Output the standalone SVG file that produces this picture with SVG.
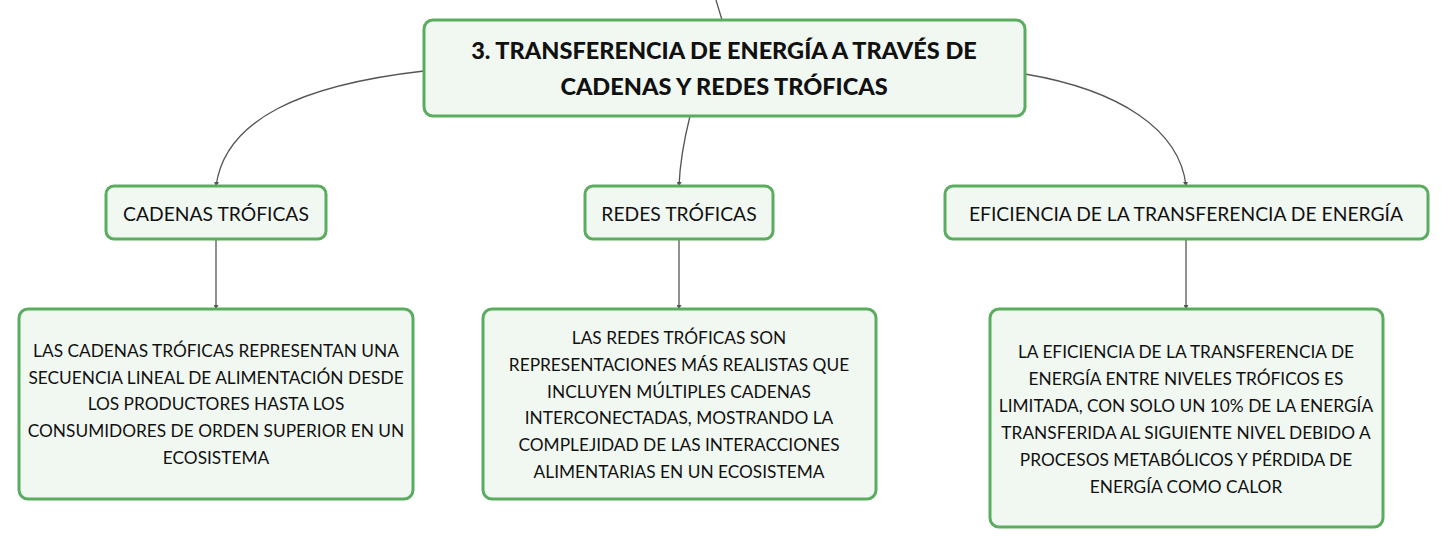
<svg xmlns="http://www.w3.org/2000/svg" width="1449" height="549" viewBox="0 0 1449 549">
<style>
.box{fill:#f1f8f2;stroke:#5aad5f;stroke-width:3}
.t{font-family:Lato,"Noto Sans","Liberation Sans",sans-serif;fill:#111;text-anchor:middle;dominant-baseline:central}
.title{font-size:23.5px;font-weight:900}
.lab{font-size:19.3px}
.body{font-size:17.3px}
.c{fill:none;stroke:#555;stroke-width:1.3}
</style>
<defs>
<marker id="ar" viewBox="0 0 6 6" refX="5" refY="3" markerWidth="5" markerHeight="5" orient="auto" markerUnits="userSpaceOnUse">
<path d="M0,0 L6,3 L0,6 z" fill="#555"/>
</marker>
</defs>
<rect width="1449" height="549" fill="#fff"/>
<g id="connectors">
<path class="c" d="M716,0 L722,20"/>
<path class="c" d="M424,71 C300,85 225,120 216,186" marker-end="url(#ar)"/>
<path class="c" d="M690,116 C684,140 680,160 679,186" marker-end="url(#ar)"/>
<path class="c" d="M1025,74 C1120,90 1180,130 1186,186" marker-end="url(#ar)"/>
<path class="c" d="M216,239 L216,309" marker-end="url(#ar)"/>
<path class="c" d="M679,239 L679,309" marker-end="url(#ar)"/>
<path class="c" d="M1186,239 L1186,309" marker-end="url(#ar)"/>
</g>
<g id="main">
<rect class="box" x="424" y="20" width="601" height="96" rx="9"/>
<text class="t title" x="724" y="50">3. TRANSFERENCIA DE ENERGÍA A TRAVÉS DE</text>
<text class="t title" x="724" y="86">CADENAS Y REDES TRÓFICAS</text>
</g>
<g id="cadenas">
<rect class="box" x="106" y="186" width="220" height="53" rx="8"/>
<text class="t lab" x="216" y="213">CADENAS TRÓFICAS</text>
</g>
<g id="redes">
<rect class="box" x="585" y="186" width="188" height="53" rx="8"/>
<text class="t lab" x="679" y="213">REDES TRÓFICAS</text>
</g>
<g id="eficiencia">
<rect class="box" x="945" y="186" width="483" height="53" rx="8"/>
<text class="t lab" x="1186" y="213">EFICIENCIA DE LA TRANSFERENCIA DE ENERGÍA</text>
</g>
<g id="cadenas-desc">
<rect class="box" x="19" y="309" width="394" height="190" rx="9"/>
<text class="t body" x="216" y="350">LAS CADENAS TRÓFICAS REPRESENTAN UNA</text>
<text class="t body" x="216" y="377">SECUENCIA LINEAL DE ALIMENTACIÓN DESDE</text>
<text class="t body" x="216" y="403">LOS PRODUCTORES HASTA LOS</text>
<text class="t body" x="216" y="430">CONSUMIDORES DE ORDEN SUPERIOR EN UN</text>
<text class="t body" x="216" y="457">ECOSISTEMA</text>
</g>
<g id="redes-desc">
<rect class="box" x="483" y="309" width="393" height="190" rx="9"/>
<text class="t body" x="679" y="337">LAS REDES TRÓFICAS SON</text>
<text class="t body" x="679" y="364">REPRESENTACIONES MÁS REALISTAS QUE</text>
<text class="t body" x="679" y="391">INCLUYEN MÚLTIPLES CADENAS</text>
<text class="t body" x="679" y="417">INTERCONECTADAS, MOSTRANDO LA</text>
<text class="t body" x="679" y="444">COMPLEJIDAD DE LAS INTERACCIONES</text>
<text class="t body" x="679" y="471">ALIMENTARIAS EN UN ECOSISTEMA</text>
</g>
<g id="eficiencia-desc">
<rect class="box" x="990" y="309" width="393" height="218" rx="9"/>
<text class="t body" x="1186" y="351">LA EFICIENCIA DE LA TRANSFERENCIA DE</text>
<text class="t body" x="1186" y="378">ENERGÍA ENTRE NIVELES TRÓFICOS ES</text>
<text class="t body" x="1186" y="405">LIMITADA, CON SOLO UN 10% DE LA ENERGÍA</text>
<text class="t body" x="1186" y="432">TRANSFERIDA AL SIGUIENTE NIVEL DEBIDO A</text>
<text class="t body" x="1186" y="459">PROCESOS METABÓLICOS Y PÉRDIDA DE</text>
<text class="t body" x="1186" y="486">ENERGÍA COMO CALOR</text>
</g>
</svg>
